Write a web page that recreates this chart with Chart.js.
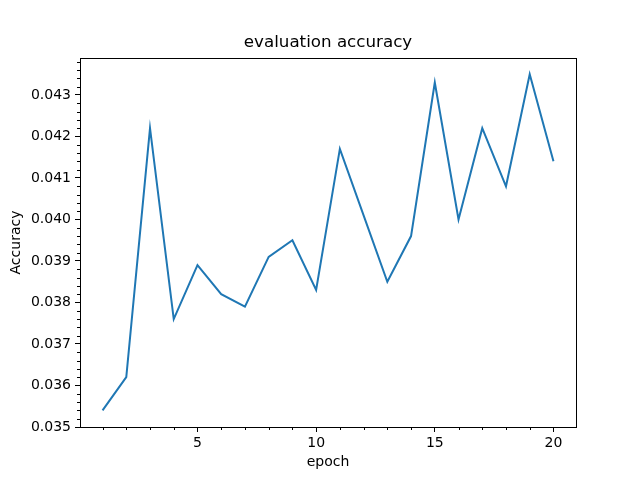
<!DOCTYPE html>
<html>
<head>
<meta charset="utf-8">
<script src="https://cdn.jsdelivr.net/npm/chart.js@4/dist/chart.umd.min.js"></script>
<style>
  html, body { margin: 0; padding: 0; background: #fff; }
  #wrap { width: 640px; height: 480px; }
</style>
</head>
<body>
<div id="wrap"><canvas id="graficoAcuracia" width="640" height="480"></canvas></div>
<script>
// dados
const epocas = [1, 2, 3, 4, 5, 6, 7, 8, 9, 10, 11, 12, 13, 14, 15, 16, 17, 18, 19, 20];
const acuracia = [0.0354, 0.0362, 0.0422, 0.0376, 0.0389, 0.0382, 0.0379, 0.0391, 0.0395, 0.0383,
                  0.0417, 0.0401, 0.0385, 0.0396, 0.0433, 0.0400, 0.0422, 0.0408, 0.0435, 0.0414];
const ticksX = [5, 10, 15, 20];
const ticksY = [0.035, 0.036, 0.037, 0.038, 0.039, 0.040, 0.041, 0.042, 0.043];
const titulo = 'evaluation accuracy';

const fonte = 'DejaVu Sans, sans-serif';

// moldura, titulo centrado nos eixos + ticks menores, estilo matplotlib
const molduraPlugin = {
    id: 'moldura',
    afterDraw(chart) {
        const ctx = chart.ctx;
        const a = chart.chartArea;
        const sx = chart.scales.x, sy = chart.scales.y;
        ctx.save();
        ctx.strokeStyle = '#000';
        ctx.lineWidth = 1;
        ctx.beginPath();
        // ticks menores eixo x (cada epoca)
        epocas.forEach(function (e) {
            if (ticksX.indexOf(e) >= 0) return;
            const px = Math.round(sx.getPixelForValue(e)) + 0.5;
            ctx.moveTo(px, a.bottom);
            ctx.lineTo(px, a.bottom + 3);
        });
        // ticks menores eixo y (a cada 0.0002)
        for (let i = 0; i * 0.0002 + sy.min <= sy.max + 1e-9; i++) {
            if (i % 5 === 0) continue;
            const py = Math.round(sy.getPixelForValue(sy.min + i * 0.0002)) + 0.5;
            ctx.moveTo(a.left, py);
            ctx.lineTo(a.left - 3, py);
        }
        ctx.stroke();
        ctx.strokeRect(Math.round(a.left) + 0.5, Math.round(a.top) + 0.5,
                       Math.round(a.right - a.left), Math.round(a.bottom - a.top));
        // titulo
        ctx.fillStyle = '#000';
        ctx.font = '16.7px ' + fonte;
        ctx.textAlign = 'center';
        ctx.textBaseline = 'middle';
        ctx.fillText(titulo, (a.left + a.right) / 2, 43);
        ctx.restore();
    }
};

new Chart(document.getElementById('graficoAcuracia'), {
    type: 'line',
    data: {
        labels: epocas,
        datasets: [{
            label: 'accuracy',
            data: epocas.map(function (e, i) { return { x: e, y: acuracia[i] }; }),
            borderColor: '#1f77b4',
            borderWidth: 2,
            pointRadius: 0,
            fill: false,
            tension: 0
        }]
    },
    options: {
        responsive: false,
        animation: false,
        layout: { padding: { left: 0, right: 64, top: 58, bottom: 0 } },
        plugins: {
            legend: { display: false },
            tooltip: { enabled: false },
            title: { display: false }
        },
        scales: {
            x: {
                type: 'linear',
                min: 0.05,
                max: 20.95,
                afterBuildTicks: function (s) { s.ticks = ticksX.map(function (v) { return { value: v }; }); },
                afterFit: function (s) { s.height = 53; },
                ticks: {
                    color: '#000',
                    padding: 3,
                    maxRotation: 0,
                    font: { family: fonte, size: 14 },
                    callback: function (v) { return String(v); }
                },
                grid: { drawOnChartArea: false, drawTicks: true, tickLength: 5, color: '#000' },
                border: { display: true, color: '#000', width: 1 },
                title: {
                    display: true,
                    text: 'epoch',
                    color: '#000',
                    font: { family: fonte, size: 14, lineHeight: 1.2 },
                    padding: 9
                }
            },
            y: {
                min: 0.035,
                max: 0.04389,
                afterBuildTicks: function (s) { s.ticks = ticksY.map(function (v) { return { value: v }; }); },
                afterFit: function (s) { s.width = 80; },
                ticks: {
                    color: '#000',
                    padding: 4,
                    font: { family: fonte, size: 14 },
                    callback: function (v) { return Number(v).toFixed(3); }
                },
                grid: { drawOnChartArea: false, drawTicks: true, tickLength: 5, color: '#000' },
                border: { display: true, color: '#000', width: 1 },
                title: {
                    display: true,
                    text: 'Accuracy',
                    color: '#000',
                    font: { family: fonte, size: 14, lineHeight: 1.2 },
                    padding: 8
                }
            }
        }
    },
    plugins: [molduraPlugin]
});
</script>
</body>
</html>
